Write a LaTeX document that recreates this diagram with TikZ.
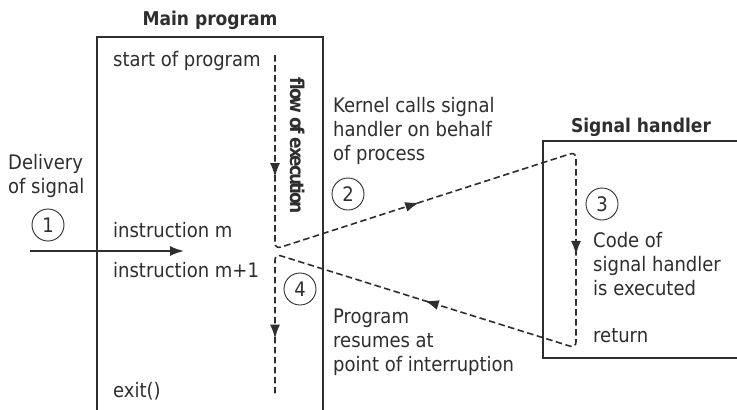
\documentclass[tikz,border=0pt]{standalone}
\usepackage{fontspec}
\setmainfont{DejaVu Sans Condensed}
\usetikzlibrary{arrows.meta,decorations.markings}
\definecolor{ink}{HTML}{2E2E2E}
\tikzset{
  txt/.style={anchor=base west,inner sep=0pt,align=left,text=ink,font=\fontsize{20}{24}\selectfont},
  ttl/.style={anchor=base,inner sep=0pt,text=ink,font=\fontsize{19}{23}\selectfont\bfseries},
  num/.style={circle,draw=ink,line width=0.9pt,minimum size=32pt,inner sep=0pt,text=ink,font=\fontsize{20}{24}\selectfont},
  frame/.style={draw=ink,line width=1.8pt},
  flow/.style={draw=ink,line width=1.6pt,dash pattern=on 6.5pt off 3.5pt,rounded corners=6pt},
  tip/.style={-{Latex[length=14pt,width=10pt]}}
}
\newcommand\flowtip{\arrow[ink,solid]{Latex[length=14pt,width=10pt]}}
\newfontfamily\flowfont[LetterSpace=-12]{DejaVu Sans Condensed Bold}
\begin{document}
\begin{tikzpicture}[x=1pt,y=-1pt]
\useasboundingbox (0,0) rectangle (737,410);
% boxes
\draw[frame] (97,412) -- (97,37) -- (323,37) -- (323,412);
\draw[frame] (740,141) -- (543,141) -- (543,358) -- (740,358);
% titles
\node[ttl] (tmain) at (210,25) {Main program};
\node[ttl] (thand) at (641,132) {Signal handler};
% main program texts
\node[txt] (start) at (113,66) {start of program};
\node[txt] (instm) at (113,237) {instruction m};
\node[txt] (instm1) at (113,277) {instruction m+1};
\node[txt] (exit) at (113,397) {exit()};
\node[inner sep=0pt,rotate=-90,text=ink,font=\fontsize{19}{23}\flowfont] (flowlbl) at (298,146) {flow of execution};
% left (anchor = baseline of last line)
\node[txt] (deliv) at (8,193) {Delivery\\of signal};
\node[num] (n1) at (48,225) {1};
\coordinate (sigstart) at (30,251);
\coordinate (sigend) at (184,251);
\draw[ink,line width=1.8pt,tip] (sigstart) -- (sigend);
% middle texts
\node[txt] (kern) at (333,160) {Kernel calls signal\\handler on behalf\\of process};
\node[num] (n2) at (348,194) {2};
\node[num] (n4) at (300,289) {4};
\node[txt] (resume) at (333,371) {Program\\resumes at\\point of interruption};
% handler texts
\node[num] (n3) at (602,204) {3};
\node[txt] (code) at (593,295) {Code of\\signal handler\\is executed};
\node[txt] (ret) at (593,342) {return};
% flow path
\coordinate (f0) at (275,55);
\coordinate (f1) at (275,249);
\coordinate (f2) at (576,152);
\coordinate (f3) at (576,348);
\coordinate (f4) at (275,254);
\coordinate (f5) at (275,396);
\path[flow,postaction={decorate},decoration={markings,
   mark=at position 122pt with {\flowtip},
   mark=at position 342pt with {\flowtip},
   mark=at position 606pt with {\flowtip},
   mark=at position 854pt with {\flowtip},
   mark=at position 1092pt with {\flowtip}}]
  (f0) -- (f1) -- (f2) -- (f3) -- (f4) -- (f5);
\end{tikzpicture}
\end{document}
